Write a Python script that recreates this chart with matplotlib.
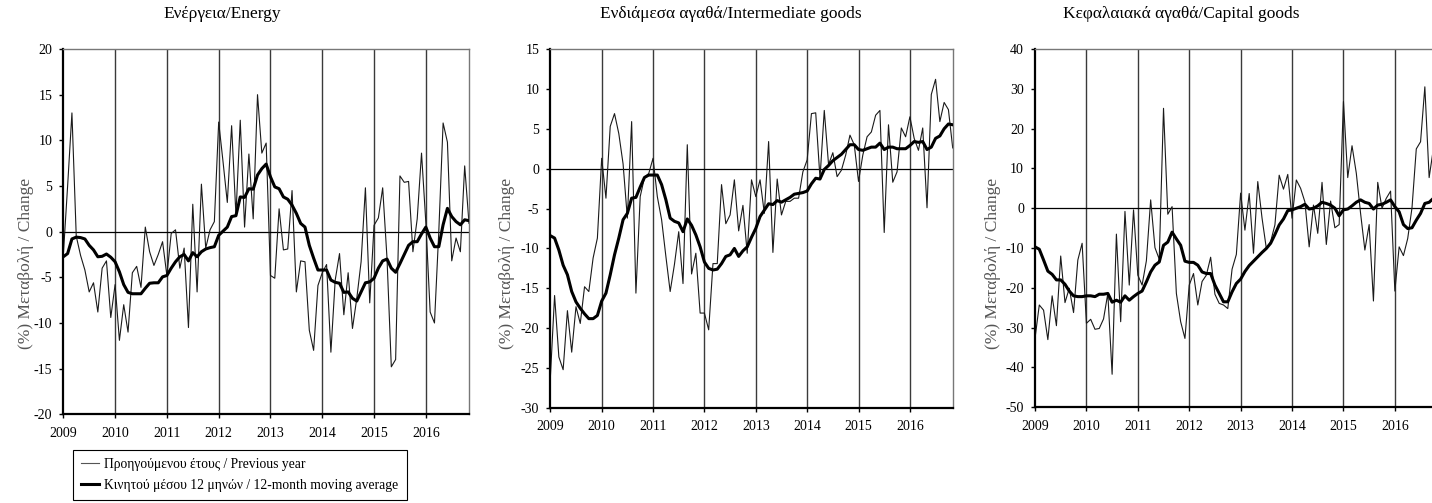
import numpy as np
import matplotlib
matplotlib.use("Agg")
import matplotlib.pyplot as plt

plt.rcParams['font.family'] = ['Liberation Serif', 'DejaVu Serif']
plt.rcParams['axes.unicode_minus'] = False

years = list(range(2009, 2017))
n_months = 95  # Jan 2009 .. Nov 2016

titles = ["Ενέργεια/Energy",
          "Ενδιάμεσα αγαθά/Intermediate goods",
          "Κεφαλαιακά αγαθά/Capital goods"]
ylabel = "(%) Μεταβολή / Change"
legend_labels = ["Προηγούμενου έτους / Previous year",
                 "Κινητού μέσου 12 μηνών / 12-month moving average"]

energy_yoy = [-2.6, 5.0, 13.0, -0.5, -2.6, -4.2, -6.6, -5.6, -8.8, -4.0, -3.2, -9.4,
              -5.8, -11.9, -8.0, -11.0, -4.5, -3.8, -6.1, 0.5, -2.2, -3.7, -2.5, -1.1,
              -4.8, -0.2, 0.2, -4.0, -1.8, -10.5, 3.0, -6.6, 5.2, -1.8, 0.2, 1.1,
              12.0, 7.7, 3.2, 11.6, 1.8, 12.2, 0.5, 8.5, 1.4, 15.0, 8.6, 9.7,
              -4.8, -5.1, 2.5, -2.0, -1.9, 4.5, -6.6, -3.2, -3.3, -10.8, -13.0, -5.9,
              -4.5, -3.6, -13.2, -5.3, -2.4, -9.1, -4.5, -10.6, -7.3, -3.3, 4.8, -7.8,
              0.7, 1.5, 4.8, -2.9, -14.8, -14.0, 6.1, 5.4, 5.5, -2.2, 1.4, 8.6,
              1.0, -8.8, -10.0, 0.0, 11.9, 9.8, -3.2, -0.7, -2.2, 7.2, 0.9]
energy_ma = [-2.75, -2.4, -0.8, -0.6, -0.65, -0.8, -1.5, -2.0, -2.75, -2.7, -2.45, -2.8,
             -3.3, -4.4, -5.8, -6.65, -6.8, -6.8, -6.8, -6.2, -5.65, -5.6, -5.6, -4.95,
             -4.8, -4.0, -3.3, -2.75, -2.5, -3.2, -2.3, -2.75, -2.2, -1.9, -1.75, -1.65,
             -0.4, 0.05, 0.5, 1.65, 1.75, 3.8, 3.75, 4.7, 4.65, 6.2, 6.9, 7.4,
             6.0, 4.9, 4.7, 3.8, 3.55, 2.9, 2.0, 0.9, 0.5, -1.5, -2.9, -4.2,
             -4.2, -4.2, -5.3, -5.55, -5.65, -6.65, -6.6, -7.3, -7.6, -6.6, -5.6, -5.5,
             -5.1, -4.0, -3.2, -3.0, -4.0, -4.45, -3.5, -2.5, -1.5, -1.1, -1.1, -0.25,
             0.5, -0.7, -1.65, -1.65, 0.75, 2.55, 1.65, 1.1, 0.75, 1.3, 1.2]

inter_yoy = [-26.3, -15.9, -23.6, -25.2, -17.8, -23.0, -17.3, -19.4, -14.8, -15.4, -11.2, -8.7,
             1.3, -3.7, 5.3, 6.9, 4.4, 0.6, -6.2, 5.9, -15.6, -3.5, -1.1, -0.6,
             1.3, -3.5, -6.4, -11.0, -15.4, -12.0, -7.9, -14.4, 3.0, -13.2, -10.6, -18.1,
             -18.1, -20.2, -11.9, -11.9, -2.0, -6.9, -5.8, -1.4, -7.8, -4.6, -10.6, -1.4,
             -3.5, -1.4, -5.6, 3.4, -10.5, -1.3, -5.8, -4.1, -4.1, -3.7, -3.7, -0.4,
             1.1, 6.9, 7.0, -1.2, 7.3, 0.5, 2.0, -1.0, -0.2, 1.7, 4.2, 3.0,
             -1.6, 1.7, 4.0, 4.6, 6.7, 7.3, -8.0, 5.5, -1.7, -0.4, 5.1, 4.0,
             6.5, 3.8, 2.3, 5.1, -4.9, 9.3, 11.2, 5.9, 8.3, 7.4, 2.6]
inter_ma = [-8.4, -8.7, -10.2, -12.1, -13.3, -15.4, -16.7, -17.5, -18.2, -18.8, -18.8, -18.4,
            -16.6, -15.6, -13.3, -10.8, -8.7, -6.4, -5.6, -3.7, -3.6, -2.3, -1.1, -0.8,
            -0.8, -0.8, -2.0, -3.9, -6.2, -6.6, -6.8, -7.9, -6.3, -7.1, -8.3, -9.8,
            -11.7, -12.5, -12.7, -12.6, -11.9, -11.0, -10.8, -10.0, -11.0, -10.3, -9.8, -8.6,
            -7.5, -6.0, -5.2, -4.4, -4.5, -4.0, -4.2, -3.9, -3.6, -3.2, -3.1, -3.0,
            -2.8, -1.9, -1.2, -1.3, -0.1, 0.4, 1.0, 1.4, 1.8, 2.4, 3.0, 3.0,
            2.4, 2.3, 2.5, 2.7, 2.7, 3.2, 2.4, 2.7, 2.7, 2.5, 2.5, 2.5,
            2.9, 3.4, 3.3, 3.4, 2.4, 2.7, 3.8, 4.1, 5.0, 5.6, 5.5]

capital_yoy = [-32.7, -24.3, -25.6, -33.0, -22.0, -29.5, -12.0, -23.7, -20.1, -26.2, -13.0, -8.8,
               -28.9, -27.9, -30.4, -30.2, -27.8, -21.4, -41.7, -6.5, -28.5, -0.8, -19.3, -0.4,
               -16.8, -19.3, -13.2, 2.1, -9.9, -12.8, 25.1, -1.5, 0.4, -21.4, -28.5, -32.7,
               -19.3, -16.4, -24.3, -18.4, -16.8, -12.3, -21.6, -23.9, -24.3, -25.2, -15.3, -11.6,
               3.8, -5.5, 3.7, -11.3, 6.7, -2.5, -10.1, -8.4, -4.2, 8.3, 4.8, 8.5,
               -2.5, 7.1, 5.0, 1.6, -9.7, 0.8, -6.3, 6.5, -9.1, 1.8, -4.9, -4.1,
               26.8, 7.7, 15.7, 8.8, -1.3, -10.5, -4.1, -23.3, 6.5, 0.0, 2.5, 4.3,
               -20.8, -9.7, -11.9, -7.6, 0.1, 14.9, 16.7, 30.5, 7.7, 15.0, 12.0]
capital_ma = [-9.7, -10.3, -13.0, -15.8, -16.6, -18.0, -18.0, -19.1, -20.8, -22.0, -22.2, -22.2,
              -22.0, -22.0, -22.2, -21.6, -21.6, -21.4, -23.6, -23.1, -23.6, -22.0, -23.1, -22.2,
              -21.4, -20.8, -18.5, -16.0, -14.3, -13.5, -9.3, -8.5, -6.0, -7.7, -9.3, -13.3,
              -13.6, -13.6, -14.3, -16.0, -16.4, -16.4, -19.3, -21.4, -23.5, -23.5, -21.0, -18.9,
              -17.8, -15.9, -14.4, -13.3, -12.2, -11.1, -10.1, -8.8, -6.6, -4.2, -2.7, -0.6,
              -0.4, 0.0, 0.4, 1.0, -0.2, 0.0, 0.6, 1.5, 1.2, 0.8, 0.0, -1.9,
              -0.4, -0.2, 0.6, 1.5, 2.1, 1.5, 1.2, -0.2, 0.8, 1.0, 1.5, 2.1,
              0.4, -0.9, -4.1, -5.1, -4.9, -3.0, -1.3, 1.2, 1.5, 2.5, 3.0]

y_limits = [(-20, 20), (-30, 15), (-50, 40)]
y_steps = [5, 5, 10]

W, H = 1432, 503
fig = plt.figure(figsize=(W / 100, H / 100), dpi=100)

# axes boxes in pixels: left, top, right, bottom
boxes = [(63.3, 49, 469, 414.3), (550.3, 49, 952.7, 408), (1035, 49, 1437.7, 407.3)]
title_x = [222, 731, 1181]
ylabel_x = [26, 507, 993]

x = 2009 + np.arange(n_months) / 12.0
series = [(energy_yoy, energy_ma), (inter_yoy, inter_ma), (capital_yoy, capital_ma)]

for k, (yoy, ma) in enumerate(series):
    l, t, r, b = boxes[k]
    ax = fig.add_axes([l / W, 1 - b / H, (r - l) / W, (b - t) / H])
    for yr in years[1:]:
        ax.axvline(yr, color='#3a3a3a', lw=1.0, zorder=1)
    ax.axhline(0, color='black', lw=0.9, zorder=1)
    h1, = ax.plot(x, yoy, color='#1a1a1a', lw=0.8, zorder=2)
    h2, = ax.plot(x, ma, color='black', lw=2.2, zorder=3)
    ax.set_xlim(2009, x[-1])
    lo, hi = y_limits[k]
    ax.set_ylim(lo, hi)
    ax.set_yticks(np.arange(lo, hi + 0.1, y_steps[k]))
    ax.set_xticks(years)
    ax.set_xticklabels([str(yr) for yr in years])
    ax.tick_params(axis='both', labelsize=10, length=3, width=1, direction='out',
                   color='black')
    ax.tick_params(axis='x', pad=6)
    ax.tick_params(axis='y', pad=5)
    for side in ('left', 'bottom'):
        ax.spines[side].set_linewidth(1.6)
        ax.spines[side].set_color('black')
    for side in ('top', 'right'):
        ax.spines[side].set_linewidth(1.0)
        ax.spines[side].set_color('#777777')
    fig.text(title_x[k] / W, 1 - 14 / H, titles[k], ha='center', va='center', fontsize=12.5)
    fig.text(ylabel_x[k] / W, 1 - 263 / H, ylabel, rotation=90, ha='center', va='center',
             fontsize=12.5, color='#555555')
    if k == 0:
        handles = [h1, h2]

leg = fig.legend(handles, legend_labels, loc='upper left',
                 bbox_to_anchor=(73 / W, 1 - 450 / H), borderaxespad=0,
                 frameon=True, fancybox=False, edgecolor='black', framealpha=1,
                 fontsize=9.8, handlelength=1.3, handletextpad=0.4,
                 borderpad=0.6, labelspacing=0.55)
leg.get_frame().set_linewidth(0.8)
leg.legend_handles[0].set_color('#555555')

fig.savefig("out.png", dpi=100)
